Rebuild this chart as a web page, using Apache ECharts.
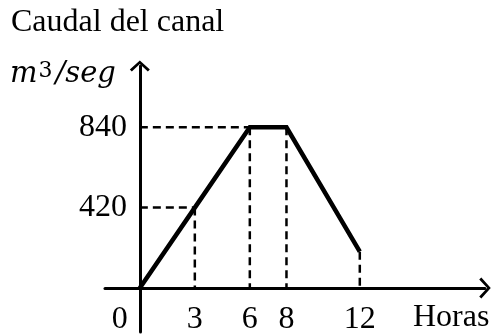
<!DOCTYPE html>
<html>
<head>
<meta charset="utf-8">
<script src="https://cdn.jsdelivr.net/npm/echarts@6/dist/echarts.min.js"></script>
<style>
  html, body { margin: 0; padding: 0; background: #fff; }
  #chart { width: 493px; height: 334px; }
</style>
</head>
<body>
<div id="chart"></div>
<script>
// Canal flow (m³/seg) over time (hours)
const hours = [0, 3, 6, 8, 12];
const flow = [0, 420, 840, 840, 190];
const xTickValues = [0, 3, 6, 8, 12];
const yTickValues = [420, 840];
// indices of points that get a dashed guide to each axis
const horizontalGuideIdx = [1, 2];
const verticalGuideIdx = [1, 2, 3, 4];

const serif = 'Liberation Serif';
const arrowHead = 'path://M0,9L10,0L20,9L18,11L10,3.4L2,11Z';

const guideStyle = { color: '#000', width: 2.5, type: [8, 5] };
const guideSeries = [];
horizontalGuideIdx.forEach(function (i) {
  guideSeries.push({
    type: 'line', symbol: 'none', silent: true, z: 1,
    lineStyle: guideStyle,
    data: [[0, flow[i]], [hours[i], flow[i]]]
  });
});
verticalGuideIdx.forEach(function (i) {
  guideSeries.push({
    type: 'line', symbol: 'none', silent: true, z: 1,
    lineStyle: guideStyle,
    data: [[hours[i], flow[i]], [hours[i], 0]]
  });
});

const chart = echarts.init(document.getElementById('chart'));
chart.setOption({
  animation: false,
  backgroundColor: '#fff',
  title: [
    {
      text: 'Caudal del canal', left: 11, top: 7, padding: 0,
      textStyle: { fontFamily: serif, fontSize: 32, fontWeight: 'normal', color: '#000' }
    },
    {
      text: '{i|m}{s|3}{i|/seg}', left: 10, top: 60, padding: 0,
      textStyle: {
        fontWeight: 'normal',
        rich: {
          i: { fontFamily: 'DejaVu Serif', fontStyle: 'italic', fontWeight: 'normal', fontSize: 29, color: '#000' },
          s: { fontFamily: 'DejaVu Serif', fontWeight: 'normal', fontSize: 22, color: '#000', verticalAlign: 'top', padding: [0, 3, 0, 1] }
        }
      }
    },
    {
      text: 'Horas', left: 413, top: 302, padding: 0,
      textStyle: { fontFamily: serif, fontSize: 32, fontWeight: 'normal', color: '#000' }
    }
  ],
  grid: { left: 105, top: 66, width: 380, height: 266, containLabel: false, outerBoundsMode: 'none' },
  xAxis: {
    type: 'value', min: -1.9, max: 18.83,
    axisLine: {
      onZero: true, symbol: ['none', arrowHead], symbolSize: [21, 14],
      lineStyle: { color: '#000', width: 3 }
    },
    axisTick: { show: false },
    splitLine: { show: false },
    axisLabel: {
      customValues: xTickValues, margin: -22, lineHeight: 20,
      fontFamily: serif, fontSize: 32, color: '#000',
      formatter: function (v) { return v === 0 ? '{z|0}' : String(v); },
      rich: { z: { fontFamily: serif, fontSize: 32, lineHeight: 20, color: '#000', padding: [0, 40, 0, 0] } }
    }
  },
  yAxis: {
    type: 'value', min: -230, max: 1160,
    axisLine: {
      onZero: true, symbol: ['none', arrowHead], symbolSize: [20, 12],
      lineStyle: { color: '#000', width: 3 }
    },
    axisTick: { show: false },
    splitLine: { show: false },
    axisLabel: {
      customValues: yTickValues, margin: -22,
      fontFamily: serif, fontSize: 32, color: '#000'
    }
  },
  series: guideSeries.concat([{
    type: 'line', symbol: 'none', z: 3,
    lineStyle: { color: '#000', width: 4.5, join: 'miter' },
    data: hours.map(function (h, i) { return [h, flow[i]]; })
  }])
});
</script>
</body>
</html>
